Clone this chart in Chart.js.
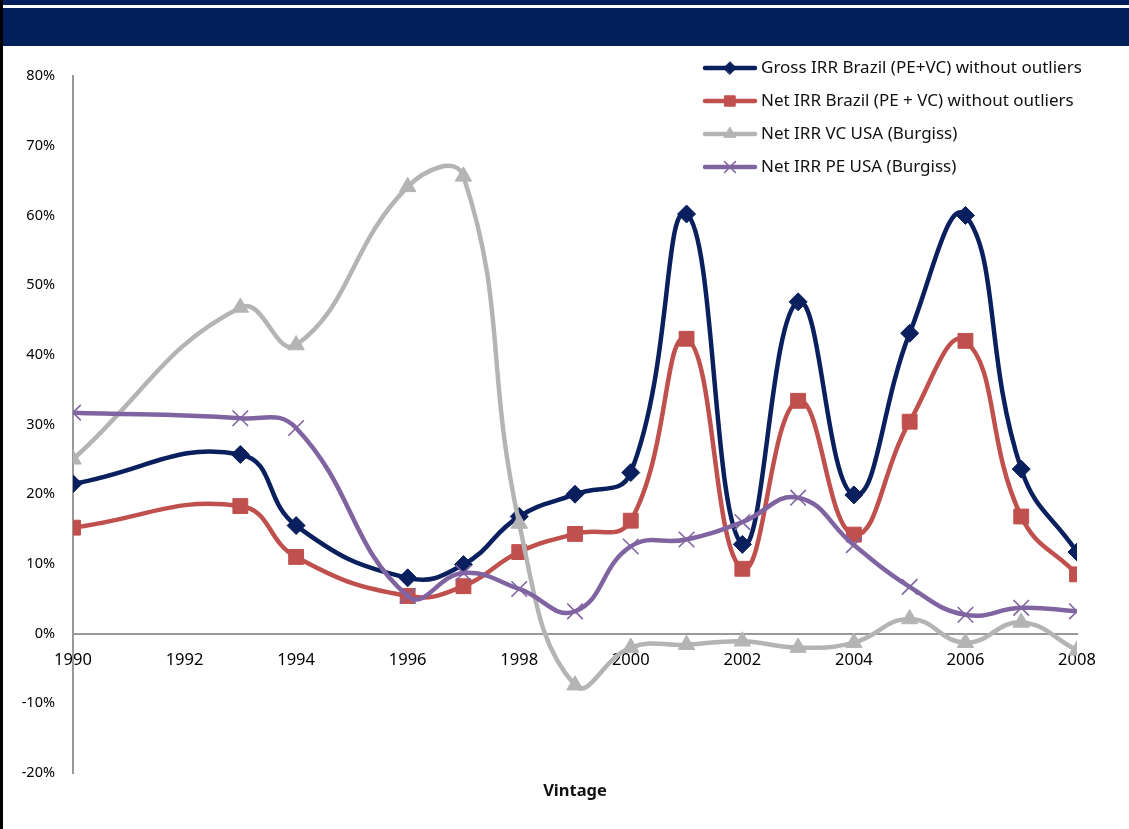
<!DOCTYPE html>
<html>
<head>
<meta charset="utf-8">
<script src="https://cdn.jsdelivr.net/npm/chart.js@4.4.1/dist/chart.umd.min.js"></script>
<style>
  html, body { margin: 0; padding: 0; background: #fff; }
  #wrap { position: relative; width: 1129px; height: 829px; overflow: hidden; font-family: "Noto Sans", sans-serif; }
  #wrap canvas { position: absolute; left: 0; top: 0; }
  .strip { position: absolute; left: 3px; right: 0; top: 0; height: 5px; background: #001f5b; }
  .band { position: absolute; left: 3px; right: 0; top: 8px; height: 38px; background: #001f5b; }
  .border { position: absolute; left: 0; top: 0; width: 3px; height: 829px; background: #000; }
  .xtitle { position: absolute; left: 500px; width: 150px; top: 778px; text-align: center; font-weight: bold; font-size: 16.5px; color: #111; }
</style>
</head>
<body>
<div id="wrap">
  <canvas id="irrChart" width="1129" height="829"></canvas>
  <div class="strip"></div>
  <div class="band"></div>
  <div class="border"></div>
  <div class="xtitle">Vintage</div>
</div>
<script>
// vintage years (no data for 1991, 1992, 1995)
const years = [1990, 1993, 1994, 1996, 1997, 1998, 1999, 2000, 2001, 2002, 2003, 2004, 2005, 2006, 2007, 2008];

// IRR in %
const grossBrazil = [21.5, 25.7, 15.5, 8.0, 9.9, 16.8, 20.0, 23.1, 60.2, 12.8, 47.6, 19.9, 43.1, 60.0, 23.6, 11.7];
const netBrazil   = [15.2, 18.3, 11.0, 5.4, 6.8, 11.7, 14.3, 16.2, 42.3, 9.3, 33.4, 14.2, 30.4, 42.0, 16.8, 8.5];
const vcUsa       = [25.0, 46.8, 41.4, 64.1, 65.6, 15.8, -7.4, -2.0, -1.6, -1.1, -2.0, -1.3, 2.1, -1.3, 1.6, -2.4];
const peUsa       = [31.7, 30.9, 29.5, 5.4, 8.7, 6.4, 3.2, 12.5, 13.5, 16.0, 19.5, 12.7, 6.7, 2.7, 3.7, 3.2];

const seriesNames = [
    'Gross IRR Brazil (PE+VC) without outliers',
    'Net IRR Brazil (PE + VC) without outliers',
    'Net IRR VC USA (Burgiss)',
    'Net IRR PE USA (Burgiss)'
];

const yTicks = [-20, -10, 0, 10, 20, 30, 40, 50, 60, 70, 80];

function toPoints(vals) {
    return years.map((yr, i) => ({ x: yr, y: vals[i] }));
}

const NAVY = '#0a1f5e';
const RED = '#c0504d';
const GRAY = '#b4b4b4';
const PURPLE = '#8064a2';

function makeSet(label, vals, color, style, radius, order) {
    return {
        label: label,
        data: toPoints(vals),
        borderColor: color,
        backgroundColor: color,
        borderWidth: 4.5,
        tension: 0.45,
        pointStyle: style,
        pointRadius: radius,
        pointBackgroundColor: color,
        pointBorderColor: color,
        pointBorderWidth: style === 'crossRot' ? 1.6 : 1,
        order: order
    };
}

// legend drawn like the Excel one: line with marker in the middle
const legendPlugin = {
    id: 'excelLegend',
    afterDraw(chart) {
        const ctx = chart.ctx;
        const x0 = 705, x1 = 755, tx = 761;
        const rows = [68, 101, 134, 167];
        ctx.save();
        chart.data.datasets.forEach((ds, i) => {
            const y = rows[i];
            ctx.strokeStyle = ds.borderColor;
            ctx.fillStyle = ds.borderColor;
            ctx.lineWidth = 4.5;
            ctx.lineCap = 'round';
            ctx.beginPath();
            ctx.moveTo(x0, y);
            ctx.lineTo(x1, y);
            ctx.stroke();
            ctx.lineWidth = ds.pointBorderWidth;
            Chart.helpers.drawPoint(ctx, {
                pointStyle: ds.pointStyle,
                radius: ds.pointRadius * 0.7,
                rotation: 0,
                borderWidth: ds.pointBorderWidth
            }, (x0 + x1) / 2, y);
            ctx.fillStyle = '#111';
            ctx.font = '17px "Noto Sans"';
            ctx.textBaseline = 'middle';
            ctx.fillText(ds.label, tx, y);
        });
        ctx.restore();
    }
};

new Chart(document.getElementById('irrChart'), {
    type: 'line',
    data: {
        datasets: [
            makeSet(seriesNames[0], grossBrazil, NAVY, 'rectRot', 9, 4),
            makeSet(seriesNames[1], netBrazil, RED, 'rect', 10.5, 3),
            makeSet(seriesNames[2], vcUsa, GRAY, 'triangle', 9.5, 2),
            makeSet(seriesNames[3], peUsa, PURPLE, 'crossRot', 11, 1)
        ]
    },
    options: {
        responsive: false,
        animation: false,
        layout: { padding: { top: 76, bottom: 56, right: 52, left: 0 } },
        plugins: { legend: { display: false }, tooltip: { enabled: false } },
        scales: {
            x: {
                type: 'linear',
                position: { y: 0 },
                min: 1990,
                max: 2008,
                grid: { display: false },
                border: { color: '#999', width: 2 },
                ticks: {
                    stepSize: 2,
                    color: '#000',
                    padding: 9,
                    font: { family: 'Noto Sans', size: 16.5 },
                    callback: v => String(v)
                }
            },
            y: {
                min: -20,
                max: 80,
                grid: { display: false },
                border: { color: '#999', width: 2 },
                afterFit: axis => { axis.width = 73; },
                afterBuildTicks: axis => { axis.ticks = yTicks.map(v => ({ value: v })); },
                ticks: {
                    color: '#000',
                    padding: 10,
                    font: { family: 'Noto Sans', size: 14.5 },
                    callback: v => v + '%'
                }
            }
        }
    },
    plugins: [legendPlugin]
});
</script>
</body>
</html>
